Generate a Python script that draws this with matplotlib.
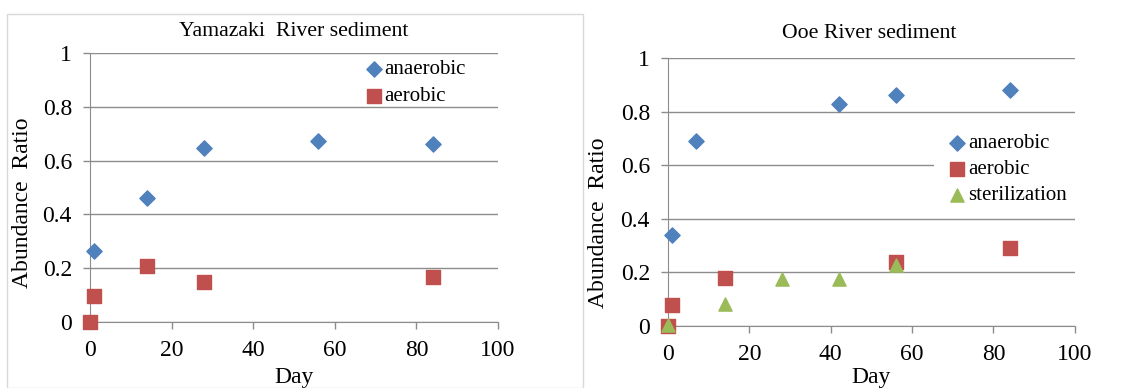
import matplotlib.pyplot as plt
from matplotlib.patches import Rectangle

plt.rcParams['font.family'] = ['Liberation Serif', 'DejaVu Serif']

# Yamazaki River sediment
yama_anaer_day = [1, 14, 28, 56, 84]
yama_anaer = [0.264, 0.46, 0.648, 0.673, 0.66]
yama_aer_day = [0, 1, 14, 28, 84]
yama_aer = [0.0, 0.098, 0.209, 0.15, 0.166]

# Ooe River sediment
ooe_anaer_day = [1, 7, 42, 56, 84]
ooe_anaer = [0.338, 0.689, 0.829, 0.863, 0.879]
ooe_aer_day = [0, 1, 14, 56, 84]
ooe_aer = [0.0, 0.078, 0.18, 0.238, 0.291]
ooe_ster_day = [0, 14, 28, 42, 56]
ooe_ster = [0.005, 0.082, 0.177, 0.177, 0.228]

x_ticks = [0, 20, 40, 60, 80, 100]
y_ticks = [0, 0.2, 0.4, 0.6, 0.8, 1]
y_tick_labels = ['0', '0.2', '0.4', '0.6', '0.8', '1']

BLUE = '#4F81BD'
RED = '#C0504D'
GREEN = '#9BBB59'
GRID = '#8C8C8C'

fig = plt.figure(figsize=(11.43, 3.88), dpi=100)

# light frame around the left chart
fig.patches.append(Rectangle((7 / 1143, 0), (583 - 7) / 1143, 1 - 14 / 388,
                             transform=fig.transFigure, fill=False,
                             edgecolor='#D9D9D9', linewidth=1))


def style_axes(ax, ylab_xy, xlab_xy):
    ax.set_xlim(0, 100)
    ax.set_ylim(0, 1)
    ax.set_xticks(x_ticks)
    ax.set_yticks(y_ticks)
    ax.set_yticklabels(y_tick_labels)
    ax.tick_params(axis='both', labelsize=17, color=GRID, length=5, width=1, pad=8)
    for s in ['top', 'right']:
        ax.spines[s].set_visible(False)
    for s in ['left', 'bottom']:
        ax.spines[s].set_color(GRID)
    ax.yaxis.grid(True, color=GRID, linewidth=1)
    ax.set_axisbelow(True)
    ax.set_ylabel('Abundance  Ratio', fontsize=17)
    ax.set_xlabel('Day', fontsize=17)
    ax.yaxis.set_label_coords(*ylab_xy)
    ax.xaxis.set_label_coords(*xlab_xy)


ax1 = fig.add_axes([0.0787, 0.1701, 0.357, 0.6933])
ax1.scatter(yama_anaer_day, yama_anaer, marker='D', s=60, color=BLUE,
            label='anaerobic', clip_on=False, zorder=3)
ax1.scatter(yama_aer_day, yama_aer, marker='s', s=106, color=RED,
            label='aerobic', clip_on=False, zorder=3)
style_axes(ax1, (-0.14, 0.442), (0.5, -0.167))
ax1.legend(loc='upper left', bbox_to_anchor=(0.66, 0.99), fontsize=15,
           frameon=False, handletextpad=0.0, handlelength=1.0, borderpad=0.2,
           labelspacing=0.35, borderaxespad=0)
fig.text(294 / 1143, 1 - 32 / 388, 'Yamazaki  River sediment', fontsize=15.7,
         ha='center', va='center')

ax2 = fig.add_axes([0.5844, 0.1598, 0.356, 0.6907])
ax2.scatter(ooe_anaer_day, ooe_anaer, marker='D', s=60, color=BLUE,
            label='anaerobic', clip_on=False, zorder=3)
ax2.scatter(ooe_aer_day, ooe_aer, marker='s', s=106, color=RED,
            label='aerobic', clip_on=False, zorder=3)
ax2.scatter(ooe_ster_day, ooe_ster, marker='^', s=90, color=GREEN,
            label='sterilization', clip_on=False, zorder=4)
style_axes(ax2, (-0.145, 0.384), (0.5, -0.153))
ax2.legend(loc='upper left', bbox_to_anchor=(0.655, 0.764), fontsize=15,
           frameon=True, facecolor='white', edgecolor='none', framealpha=1,
           handletextpad=0.0, handlelength=1.0, borderpad=0.6,
           labelspacing=0.3, borderaxespad=0)
fig.text(869 / 1143, 1 - 33 / 388, 'Ooe River sediment', fontsize=15.7,
         ha='center', va='center')

fig.savefig('out.png', dpi=100)
